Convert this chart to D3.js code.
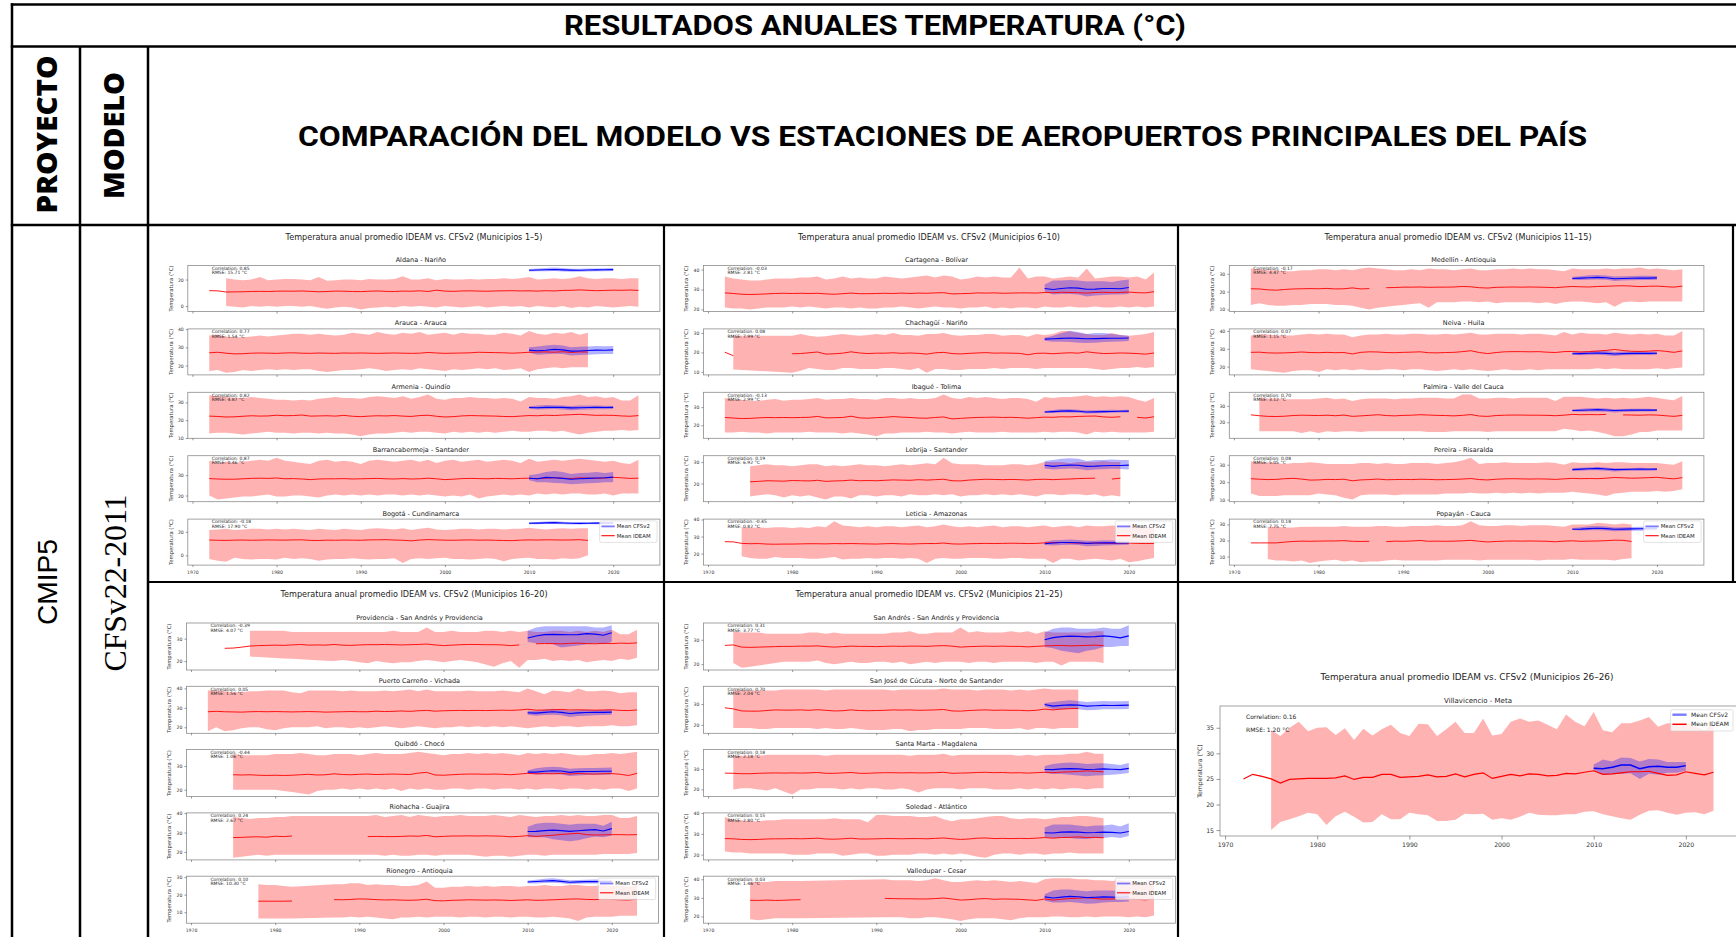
<!DOCTYPE html>
<html><head><meta charset="utf-8">
<script src="https://cdn.jsdelivr.net/npm/d3@7"></script>
<style>html,body{margin:0;padding:0;background:#fff;}svg{display:block;}</style>
</head><body>
<svg id="c" width="1736" height="937"></svg>
<script>
const _ = null;
const YEARS = d3.range(1972, 2024);
const CFS_YEARS = d3.range(2010, 2021);
const xTickValues = [1970, 1980, 1990, 2000, 2010, 2020];

const figureTitles = [
  "Temperatura anual promedio IDEAM vs. CFSv2 (Municipios 1–5)",
  "Temperatura anual promedio IDEAM vs. CFSv2 (Municipios 6–10)",
  "Temperatura anual promedio IDEAM vs. CFSv2 (Municipios 11–15)",
  "Temperatura anual promedio IDEAM vs. CFSv2 (Municipios 16–20)",
  "Temperatura anual promedio IDEAM vs. CFSv2 (Municipios 21–25)",
  "Temperatura anual promedio IDEAM vs. CFSv2 (Municipios 26–26)"
];

const stationNames = [
  "Aldana - Nariño","Arauca - Arauca","Armenia - Quindío","Barrancabermeja - Santander","Bogotá - Cundinamarca",
  "Cartagena - Bolívar","Chachagüí - Nariño","Ibagué - Tolima","Lebrija - Santander","Leticia - Amazonas",
  "Medellín - Antioquia","Neiva - Huila","Palmira - Valle del Cauca","Pereira - Risaralda","Popayán - Cauca",
  "Providencia - San Andrés y Providencia","Puerto Carreño - Vichada","Quibdó - Chocó","Riohacha - Guajira","Rionegro - Antioquia",
  "San Andrés - San Andrés y Providencia","San José de Cúcuta - Norte de Santander","Santa Marta - Magdalena","Soledad - Atlántico","Valledupar - Cesar",
  "Villavicencio - Meta"
];
const correlations = ["0.85","0.77","0.82","0.87","-0.18","-0.03","0.08","-0.13","0.19","-0.45",
  "-0.17","0.07","0.70","0.08","0.18","-0.39","0.05","-0.44","0.24","0.10",
  "0.31","0.70","0.18","0.15","0.03","0.16"];
const rmseValues = ["15.71","1.54","4.87","0.46","17.90","2.81","7.99","2.99","6.92","0.82",
  "4.47","1.15","3.12","5.05","7.75","4.07","1.56","1.06","2.67","10.30",
  "3.77","2.04","2.18","2.80","1.46","1.20"];
const yTickValues = [
  [0,20],[20,30,40],[10,20,30],[20,30],[0,20],
  [20,30,40],[10,20,30],[20,30],[20,30],[20,30,40],
  [10,20,30],[20,30,40],[20,30],[10,20,30],[10,20,30],
  [20,30],[20,30,40],[20,30],[20,30,40],[10,20,30],
  [20,30],[20,30],[20,30],[20,30,40],[20,30,40],
  [15,20,25,30,35]
];

// IDEAM annual mean, 1972..2023
const ideamMean = [
 [11.6,11.5,10.6,10.7,10.8,11.0,11.1,11.0,11.2,11.3, 11.2,11.4,11.1,10.8,11.0,11.3,11.2,11.0,10.9,11.2, 11.4,11.1,11.0,11.3,11.2,11.5,11.0,12.0,11.3,11.1, 11.4,11.5,11.3,11.2,11.4,11.5,11.6,11.4,11.5,11.3, 11.6,11.4,11.8,11.9,12.2,11.9,11.6,11.8,12.0,11.9, 12.1,11.8],
 [27.0,27.3,26.8,26.4,26.5,26.8,26.9,26.8,26.7,26.9, 27.0,26.8,26.7,26.9,26.8,26.7,26.9,26.8,26.9,26.8, 26.7,26.8,26.9,26.8,26.7,26.8,27.2,26.9,26.7,26.8, 26.9,27.0,27.3,27.2,27.1,27.0,26.8,27.0,27.3,27.4, 27.5,27.3,27.6,27.2,27.5,27.4,_,_,_,_, _,_],
 [22.3,22.1,21.8,21.9,22.2,22.5,22.3,22.4,22.8,22.5, 22.6,22.9,22.3,22.4,22.5,22.3,22.7,22.2,22.0,22.3, 22.5,22.4,22.6,22.3,22.1,22.6,22.8,22.2,21.8,22.0, 22.4,22.6,22.5,22.4,22.3,22.1,22.0,22.3,22.6,22.5, 22.8,22.6,22.9,23.1,23.3,23.0,22.7,22.8,22.7,22.4, 22.2,22.6],
 [28.3,28.1,28.0,28.0,28.2,28.4,28.5,28.4,28.6,28.2, 28.3,28.1,27.8,28.1,28.2,28.2,28.3,28.1,28.2,28.3, 28.4,28.2,28.1,28.3,28.1,28.2,28.5,28.2,27.8,28.0, 28.3,28.4,28.3,28.2,28.4,28.3,28.2,28.4,28.5,28.2, 28.6,28.7,28.5,28.3,28.7,28.5,28.4,28.6,28.9,28.7, 28.4,28.5],
 [13.0,12.8,12.7,12.9,13.0,12.8,12.9,13.1,13.0,12.9, 13.1,13.2,12.7,12.6,12.9,12.8,13.0,12.9,12.8,13.1, 13.2,13.3,13.0,12.8,12.3,13.0,13.4,13.1,12.9,12.8, 13.0,13.1,12.9,13.0,12.8,12.6,12.5,12.9,13.1,13.0, 13.2,13.1,13.0,13.1,13.3,12.7,_,_,_,_, _,_],
 [28.3,28.0,27.6,27.5,27.6,27.8,28.0,28.1,28.0,28.1, 28.0,28.1,27.8,27.6,27.9,28.2,27.9,27.9,28.0,28.1, 28.0,28.2,28.0,28.2,28.1,28.3,28.4,27.8,27.9,28.0, 28.3,28.2,28.3,28.1,28.2,28.3,28.3,28.2,28.5,28.4, 28.6,28.5,28.4,28.2,28.5,28.6,28.4,28.5,28.7,28.4, 28.3,28.9],
 [20.1,18.3,_,_,_,_,_,_,19.3,19.4, 19.8,20.2,19.1,19.3,19.6,20.3,19.7,19.4,19.6,19.6, 19.8,19.5,19.7,19.5,19.1,19.8,20.0,19.4,19.2,19.5, 19.7,19.9,19.6,19.7,19.6,19.5,18.8,19.5,19.6,19.3, 19.6,19.8,19.6,20.3,19.8,19.4,19.5,19.7,19.6,19.4, 19.1,19.7],
 [24.3,24.0,23.7,23.8,24.1,24.3,24.2,24.3,24.2,24.3, 24.4,24.9,24.1,24.2,24.3,25.0,24.1,23.9,24.2,24.4, 24.8,24.5,24.3,24.0,23.9,24.3,24.6,23.5,23.8,24.1, 24.3,24.4,24.5,24.3,24.4,24.2,23.9,24.2,24.5,24.4, 24.7,24.6,24.9,25.0,25.1,24.6,24.4,24.7,_,24.4, 24.0,24.7],
 [_,_,_,20.8,21.0,21.3,21.2,21.1,21.4,21.3, 21.2,21.5,21.0,21.2,21.3,21.6,21.3,21.4,21.3,21.5, 21.7,21.6,21.5,21.8,21.6,21.8,22.0,21.3,21.2,21.6, 21.8,22.0,21.9,21.8,21.9,21.8,21.6,21.9,22.0,21.8, 22.0,22.1,22.3,22.4,22.5,_,22.1,22.5,_,_, _,_],
 [27.0,26.9,26.0,25.8,25.9,25.6,25.5,25.6,25.6,25.7, 25.8,25.8,25.7,25.9,25.8,25.9,25.8,25.7,25.6,25.8, 25.9,25.7,25.6,25.8,25.9,25.9,26.2,25.7,25.6,25.8, 25.9,26.0,25.9,26.0,26.1,26.0,25.9,26.0,26.3,26.4, 26.5,26.3,26.2,26.0,26.2,26.1,26.0,26.1,26.2,26.0, 25.9,26.0],
 [21.6,21.5,21.0,20.8,21.2,21.5,21.6,21.7,21.6,21.8, 21.5,21.6,22.1,21.5,21.7,_,22.2,22.3,22.5,22.5, 22.6,22.4,22.5,22.5,22.6,22.9,22.7,22.2,22.0,22.4, 22.5,22.6,22.5,22.6,22.5,22.4,22.2,22.6,22.9,22.7, 22.6,22.9,23.0,23.2,23.3,23.1,22.8,23.0,23.1,22.8, 22.5,23.1],
 [28.0,28.1,27.7,27.6,27.7,27.9,28.2,27.9,27.8,28.0, 27.8,27.9,27.1,28.0,28.3,28.2,27.9,27.8,28.0,28.1, 28.3,27.8,27.7,27.9,28.0,28.4,28.9,27.9,27.3,27.9, 28.3,28.4,28.4,28.3,28.4,28.1,27.9,28.4,28.5,28.2, 28.4,28.7,29.1,29.6,29.0,28.6,28.5,28.7,29.0,28.6, 28.0,28.8],
 [24.5,24.0,23.6,23.5,23.7,24.1,24.3,24.2,24.1,24.3, 24.0,24.4,23.6,23.9,24.2,24.6,24.1,23.9,24.2,24.3, 24.6,24.4,24.2,24.1,23.9,24.2,24.7,23.8,23.6,24.1, 24.3,24.4,24.4,24.3,24.3,24.2,24.0,24.3,24.8,24.6, 24.7,24.6,24.8,_,24.5,24.4,24.3,24.5,24.4,24.0, 23.6,24.2],
 [22.0,21.7,21.5,21.6,22.0,22.2,21.8,21.2,21.3,21.6, 21.5,21.7,20.8,21.3,21.5,21.8,21.4,21.5,21.6,21.5, 21.7,21.6,21.4,21.5,21.6,21.8,22.1,21.5,21.3,21.7, 21.9,22.0,21.9,21.8,21.9,21.8,21.6,21.9,22.2,22.0, 22.1,22.0,22.3,22.7,22.5,22.3,22.4,22.6,22.8,22.3, 21.9,22.6],
 [18.5,18.5,18.5,18.5,19.0,19.4,19.6,19.5,19.6,19.7, 19.7,19.9,19.5,19.4,19.5,_,19.3,19.6,19.5,19.7, 20.0,19.5,19.6,19.5,19.6,19.8,20.1,19.5,19.1,19.4, 19.6,19.7,19.6,19.7,19.6,19.5,19.2,19.6,19.8,19.5, 19.6,19.7,19.9,20.2,20.1,19.4,_,_,_,_, _,_],
 [_,_,25.7,25.8,26.2,26.7,26.9,27.0,27.1,27.0, 27.2,27.4,27.1,27.2,27.1,27.4,27.1,27.0,27.2,27.3, 27.3,27.4,27.3,27.2,27.3,27.4,27.6,27.2,26.9,27.1, 27.3,27.4,27.4,27.3,27.3,27.2,26.9,27.2,_,27.7, 27.8,27.8,27.7,27.9,28.0,27.8,27.7,27.9,27.8,28.0, 27.9,28.1],
 [28.0,28.2,28.0,27.9,27.8,28.0,28.1,28.0,28.1,28.0, 27.9,28.0,28.1,28.0,27.8,27.9,28.0,28.1,28.0,28.0, 28.3,28.1,28.2,28.4,28.2,28.5,28.7,28.3,28.5,28.6, 28.7,28.6,28.7,28.6,28.7,28.8,28.7,28.9,29.3,28.8, 28.9,29.0,29.2,28.9,29.0,28.9,28.8,28.9,29.0,28.7, 28.6,28.9],
 [_,_,_,26.3,26.2,26.3,26.1,26.0,26.1,26.0, 26.1,26.3,26.5,26.2,26.3,26.7,26.4,26.3,26.5,26.6, 26.4,26.5,26.6,26.5,26.4,27.0,27.3,26.2,26.1,26.3, 26.5,26.6,26.6,26.5,26.6,26.5,26.3,26.6,26.9,26.7, 26.8,26.7,26.9,26.6,26.8,26.7,26.6,26.7,26.8,26.5, 26.0,26.9],
 [_,_,_,27.4,27.5,27.7,27.8,27.6,28.1,27.9, 28.2,_,_,_,_,_,_,_,_,27.9, 28.0,27.9,27.9,28.0,28.2,28.1,28.5,27.8,28.0,28.2, 28.2,28.3,28.2,28.3,28.2,28.1,27.8,28.0,28.4,28.0, 28.3,28.6,29.0,29.3,29.6,28.9,28.7,28.8,28.9,28.9, 28.8,28.9],
 [_,_,_,_,_,_,16.3,16.3,16.3,16.3, 16.4,_,_,_,_,17.2,17.1,17.3,17.6,17.5, 17.2,17.0,17.1,16.9,16.8,17.0,17.4,16.6,16.5,16.8, 16.9,17.1,17.0,16.9,17.0,16.9,16.7,16.9,17.1,16.8, 16.9,17.1,17.3,17.5,17.6,17.3,17.2,17.4,17.3,17.1, 17.0,17.5],
 [27.7,27.9,27.0,26.9,27.0,27.1,27.2,27.3,27.3,27.4, 27.4,27.5,27.2,27.0,27.2,27.4,27.3,27.3,27.2,27.3, 27.4,27.3,27.4,27.4,27.3,27.5,27.6,27.4,27.0,27.2, 27.3,27.4,27.3,27.4,27.3,27.3,27.1,27.3,27.5,27.6, 27.7,27.5,27.6,27.7,27.8,27.6,_,_,_,_, _,_],
 [28.2,27.7,26.7,26.6,26.6,26.9,27.2,27.1,27.1,27.2, 27.0,27.3,27.0,26.7,26.8,27.2,26.9,26.8,26.9,27.0, 27.2,27.1,27.2,27.0,27.1,27.2,27.4,26.7,26.6,26.9, 27.1,27.2,27.0,27.1,27.0,27.0,26.8,27.0,27.6,27.2, 27.6,27.8,27.9,_,_,_,_,_,_,_, _,_],
 [28.0,27.9,27.7,27.7,27.9,28.0,28.1,28.0,28.1,28.0, 28.1,28.3,27.9,27.9,28.1,28.3,27.9,27.9,28.1,28.2, 28.2,28.1,28.2,28.1,28.1,28.2,28.4,27.9,28.0,28.1, 28.3,28.4,28.2,28.3,28.1,28.2,28.0,28.2,28.4,28.2, 28.5,28.6,28.8,29.1,28.9,28.6,_,_,_,_, _,_],
 [27.7,27.6,27.3,27.2,27.3,27.5,27.6,27.6,27.7,27.6, 27.7,27.9,27.5,27.4,27.6,27.9,27.5,27.5,27.6,27.7, 27.7,27.6,27.7,27.7,27.6,27.8,28.0,27.6,27.3,27.5, 27.9,28.0,27.7,27.8,27.7,27.8,27.7,27.9,28.2,27.9, 28.2,28.3,28.5,28.2,28.3,28.1,_,_,_,_, _,_],
 [_,_,_,28.7,28.6,28.8,28.6,28.7,28.9,29.0, _,_,_,_,_,_,_,_,_,29.7, 29.6,29.5,29.5,29.4,29.4,29.6,29.9,29.4,28.8,29.0, 29.4,29.6,29.2,29.4,29.3,29.2,28.9,28.6,29.4,28.8, 29.3,29.6,29.8,30.1,29.6,29.3,29.4,29.6,29.5,29.2, 28.9,29.6],
 [25.0,25.9,25.5,25.0,24.2,24.9,25.0,25.1,25.1,25.1, 25.2,25.6,24.9,25.3,25.3,25.9,25.9,25.3,25.4,25.5, 25.8,25.4,25.5,26.0,25.4,25.9,26.2,25.1,25.5,25.9, 25.6,26.0,25.9,25.6,25.7,26.1,26.0,26.3,26.6,25.9, 26.0,26.2,26.4,26.4,26.5,26.1,25.7,25.8,26.4,26.1, 25.8,26.3]
];

// IDEAM upper envelope (shaded band top), 1972..2023
const ideamUpper = [
 [_,_,21,20,19.5,20,22,19.5,20,20.5, 20.5,20,19.5,22,19,19.5,20,20,19.5,20.5, 20,20,20.5,22.5,20,20,21,19.5,20.5,20, 20,20.5,20,20.5,20.5,21,20.5,21,22,20, 20.5,21,20.5,21,22.5,21,20.5,21,21,20.5, 21,21],
 [36.5,37,36,35.5,35.5,36,36.5,36,36.5,37, 37.5,37.5,37,37.5,37,36.5,37,38,37.5,37, 38.5,37.5,37,38,37.5,38.5,37,37.5,38,37, 38,37.5,37.5,37,37,38,37.5,36.5,39,37.5, 37,38,37.5,38.5,37,38,_,_,_,_, _,_],
 [34,33.5,33,32.5,32.5,33,32.5,32,31.5,31.5, 31,31.5,31,32,32.5,33,32.5,32.5,32,33, 33.5,33,32.5,33.5,32,33,34.5,32,31.5,32.5, 32.5,33,32.5,32.5,32,32.5,32,30.5,33,32.5, 32.5,32,33,33.5,34.5,33,33.5,32.5,33,31, 31,34],
 [37,36,36.5,36,36.5,37,37.5,37,38.5,37, 36.5,36,35.5,37,37.5,36.5,37,36.5,35.5,37, 37.5,37,36.5,37,37.5,36.5,37.5,36,37,37.5, 36.5,37,37.5,36.5,37,37.5,37,36,38,36.5, 37,37.5,37,37.5,38,37.5,37,36.5,37,36, 35.5,37.5],
 [21.5,22,22.5,21.5,22,22.5,22.5,22,22.5,22, 22.5,22,21.5,22.5,22,21.5,22.5,22,21.5,22.5, 23,22.5,22,23,21.5,22.5,23.5,22,21.5,22, 22.5,22.5,22,22.5,22.5,22,22.5,22.5,23.5,22.5, 22,22.5,23,22.5,23,23,_,_,_,_, _,_],
 [36.5,35.5,35,34.5,34.5,35,35.5,35.5,35.5,36, 36,36.5,35,35.5,36.5,35.5,36,35.5,35.5,36.5, 36,35.5,36,36.5,37,36,37,36.5,35,35.5, 36.5,36,36.5,36,36,41,35.5,36.5,36.5,35.5, 36,36.5,36,40.5,35.5,36,36.5,36.5,36,36.5, 35,38.5],
 [_,28.5,_,_,_,_,_,_,28.6,29.5, 28.5,28,28.3,29,29.5,29,28.5,29,29.5,29, 30,29,29,28.5,29.5,29.5,30,29,28.5,29, 29,29.5,29.5,28.5,29,29,28,29.5,29,29.5, 31,31,30,29.5,29,29,30,29,28.5,29, 29.5,30.5],
 [35,34,34,33.5,33.5,34,34.5,33.5,34,34, 34.5,35,34,34.5,34.5,35,34.5,34.5,34,35, 35,34.5,35,34.5,34.5,35,37,35,34.5,35.5, 35,35.5,35,34.5,35,35,34.5,33,35.5,35, 35.5,35.5,36,36.5,35.5,36,35.5,36,35.5,34, 33,35],
 [_,_,_,28,28.5,29,28.5,28.5,28,28.5, 29,29,28,28.5,28,28.5,29,28.5,28.5,28, 28.5,29,28.5,29,29.5,29,32,29.5,29,29, 29,28.5,28.5,28.5,29,29,28.5,29,30,30, 30,29.5,30,30,30,30.5,30,30,_,_, _,_],
 [_,_,35.5,35,35.5,35,35.5,35.5,35,35.5, 35,36,35.5,39,36.5,36,35.5,36,35.5,36, 36,35.5,36,36.5,35.5,36,37,36,35.5,36, 35.5,36,36.5,35.5,36,36,35.5,36,36.5,35.5, 36,36.5,35.5,36.5,36,36,36.5,36,36.5,36, 35.5,36],
 [33,32.5,32,32,31.5,31.5,32,32,32.5,32.5, 32,32.5,32,33,33.5,33,32.5,32,32,32.5, 32,33,32.5,32.5,32,32.5,33,32,32,32.5, 32.5,33,32.5,33,32.5,32.5,32,31.5,33,32.5, 32.5,32.5,33,32.5,33,33,33.5,32.5,33,32.5, 32,32.5],
 [37.5,38,38,37.5,37.5,37.5,38,38.5,38,38.5, 38,38,36.5,37.5,38,38,38.5,38,38,38.5, 38.5,38,38,38.5,38,38.5,39,38,38,38.5, 38.5,38.5,38,38.5,38.5,38,37.5,39.5,38,39, 38.5,38.5,38,39,38.5,38,38.5,38,38.5,37.5, 37.5,40],
 [_,35,34.5,34.5,34,34,34,34,34.5,35, 34,34.5,33,34,34.5,34.5,34.5,34,34.5,34.5, 35,35,35,34.5,34.5,37,37,34.5,34.5,35, 35,34.5,35,35,35,35,33,35.5,35.5,35.5, 35,34.5,35,34.5,35,34.5,35,35.5,35,34, 33.5,36],
 [32,31.5,31.5,31,30.5,31,31,31.5,31,30.5, 30.5,30.5,30.5,31,31,30.5,31,30.5,30.5,31, 31,31,30.5,31,31.5,32.5,34,30.5,31,31, 31.5,31,31,31,31,31.5,31,30,31.5,31, 31,31.5,31,31.5,31.5,31,31,31,31,30.5, 30,32],
 [_,_,28.5,28.5,28,28,28.5,28.5,28.5,28.5, 28.5,29,28.5,28.5,28.5,29,29,28.5,28.5,29, 29,29,29.5,29,29,29.5,32,29.5,29,29, 29.5,29.5,29,29.5,29.5,29.5,29,28.5,30,30, 30,31,30.5,30,30.5,30,_,_,_,_, _,_],
 [_,_,_,_,_,33.5,33.5,33.5,33.5,33.5, 33,33,33,33,33,33,33,33,33,33, 33,33,33.5,33,33,33,35,33,33,33.5, 33,33,33,33.5,33.5,33,33.5,33,33.5,33, 33,33.5,33.5,33,33.5,33,33.5,33,34,32, 32,34],
 [39,39,38.5,38,38,38.5,38.5,39,39,39, 38,37.5,39,39,39,39,38.5,39,38.5,38.5, 38.5,39,38.5,39,39.5,38.5,39.5,38.5,38.5,38.5, 38.5,39,38.5,38.5,38.5,39,38.5,38,40,38.5, 37,39,38.5,38,40,38.5,38.5,39,38.5,37.5, 38,38],
 [_,_,_,35,34.5,34.5,34.5,34.5,35,35, 35,35.5,35,34.5,34.5,35,35,35,34.5,35, 35.5,35,35,35,35.5,36,35.5,35,34.5,35, 35,35.5,35,35.5,35,35.5,35,34.5,35.5,35, 35.5,35,35.5,35,34.5,34.5,35,35,35.5,35, 35.5,36],
 [_,_,_,38,37.5,37,37.5,37.5,38,38, 38.5,_,_,_,_,_,_,_,_,38.5, 39,38,38.5,39,38,39,38.5,38,38.5,38.5, 39,38.5,38.5,38.5,39,38.5,38,39,38.5,38, 38.5,38.5,39,38.5,39,38.5,38.5,39,39,37.5, 37.5,38.5],
 [_,_,_,_,_,_,26,25.5,25.5,25, 24.5,_,_,_,_,26,26,26.5,26.5,25.5, 26,25.5,25.5,25,25,25.5,27.5,24,24,24.5, 24.5,25,24.5,25,24.5,25,25,24.5,25,25, 25.5,25,25,25.5,25.5,25,25,25.5,25,25, 24.5,26],
 [_,33.5,33,33,33,32.5,32.5,32.5,32.5,32.5, 33,33,32.5,33,32.5,32.5,32.5,32.5,32.5,32.5, 33,33,33.5,32.5,32.5,33,33,33,35,33, 33.5,33,33,33,33.5,33,33.5,32.5,33.5,33, 33,33,33,33,33.5,33.5,_,_,_,_, _,_],
 [_,36.5,36.5,36.5,36.5,36.5,36.5,37,37,37, 37,37,36.5,37,37,37,37,37,37,37, 36.5,37,37,37,37,37,37.5,37,37,37, 36.5,37,37,37,36.5,37,36.5,37,37.5,37, 37,37,37,_,_,_,_,_,_,_, _,_],
 [_,36.5,36.5,36.5,36.5,37,37,37,37,37, 37,37,36.5,37,37,37,37,37,37,37, 37,37,36.5,37,37,37,37.5,36.5,37,37, 37,37,37,37,37,36.5,37,36.5,37,37, 37,37.5,37.5,38.5,37.5,37.5,_,_,_,_, _,_],
 [38,36.5,36.5,36,36,36.5,36.5,37,37,37, 37,37,37,37.5,37,37,37,35.5,39,39, 38.5,38.5,38.5,38,38,38.5,37,36,37,37, 37.5,38,38.5,38.5,37.5,37,37.5,37.5,37,37.5, 38,38,38.5,38.5,38,37.5,_,_,_,_, _,_],
 [_,_,_,38.5,38.5,38.5,39,39,39,39, _,_,_,_,_,_,_,_,_,40, 39.5,39.5,39.5,39,39.5,40.5,39.5,38.5,38.5,39, 39.5,39,39.5,39,38.5,39,38.5,38,40,40.5, 40.5,40.5,40,40,39.5,39.5,39,39.5,39,38.5, 38,38.5],
 [_,_,_,34.5,33.4,35,36.2,34.3,35,35.1, 33.6,34.9,32.6,34.8,33.5,34.7,35.6,34,33.4,35.8, 35.7,33.4,34.7,36.2,34,34,36.8,33.5,33.8,36.2, 36.8,36.2,36.4,35.6,34.7,37.6,36.2,35.3,38.1,34.5, 34.1,35.9,35.9,36.4,37.1,35.2,35.9,35.9,36,35.3, 34.5,35.9]
];

// IDEAM lower envelope (shaded band bottom), 1972..2023
const ideamLower = [
 [_,_,0,-0.5,-1,0,-0.5,0,-0.5,0, 0,-0.5,0,-1,-2,-1,-0.5,-1,-2.5,-1.5, -1,-0.5,-1,0,-0.5,0,-0.5,-1,0,-0.5, -1,-0.5,0,-1,-0.5,0,-0.5,0,-1,0, -0.5,-1,0,-1.5,-0.5,-1,0,-0.5,-1,-0.5, 0,-0.5],
 [17,17.5,16,16.5,17.5,17,17.5,18,17.5,18, 17.5,18,18,17,16.5,17,17.5,17.5,18,18.5, 18,17,17.5,18,17.5,18.5,18,17.5,17,18, 17.5,18,18.5,18,18.5,17.5,18,18.5,16.5,18, 18.5,19,18.5,19,19,19,_,_,_,_, _,_],
 [12.5,13,13,12.5,12,12.5,13,13.5,13,13, 12.5,13,13,12.5,13,12.5,12.5,12,11,12, 12.5,12.5,13,13.5,13,13.5,13.5,13,12.5,13.5, 13,13.5,13,13.5,13,13.5,14,13.5,13.5,14, 14,13.5,14,13,12,13,13.5,14,14,14.5, 14,14.5],
 [20,18,18.5,19,19.5,19.5,20,20.5,19.5,19.5, 20,20,19.5,19,20,20.5,20,20.5,20,20.5, 20,20.5,20.5,20,20.5,20,20.5,20,19.5,20, 19.5,20.5,18.5,19.5,20,20.5,20,20.5,20,21, 20.5,21,20.5,21,21,20.5,20.5,21,20,21, 21,21],
 [-3,-4.5,-5.5,-2,-3,-3.5,-3,-3,-3.5,-2, -3,-2.5,-3,-4.5,-3.5,-3,-3,-2.5,-3,-3.5, -3,-3,-2.5,-6.5,-3,-2.5,-3,-2.5,-2,-3, -3,-3.5,-3,-2.5,-3,-5,-3,-2.5,-2,-3, -3,-3.5,-2.5,-3,-2.5,0,_,_,_,_, _,_],
 [21,20.5,20.5,20,20.5,21,21,21,21.5,21, 21.5,21,20.5,21,21,20.5,21,20.5,20.5,21, 21,21.5,21,20.5,21,21.5,21,21,20.5,21, 21,21.5,20.5,21,20.5,21,21,20.5,21.5,21, 21,21.5,21,21,21.5,21,21,21.5,21,21.5, 21,21.5],
 [_,11.2,_,_,_,_,_,_,9.5,10.5, 12,11.5,11,11,12,12,11.5,11.5,11.5,12, 12,11.5,11,12,9.5,11.5,11.5,11,11,11.5, 11.5,11.5,12,11.5,12,12,12,11.5,12,12, 12,12,12,12,11.5,11,11.5,12,12,12.5, 12,12.5],
 [16,16,16.5,16,16,15.5,16,16,16,16, 16.5,16,16,16,15.5,16,15.5,15,14,15.5, 15.5,16,16,16,16.5,16,16,15.5,16,16.5, 16,16,16,16.5,16,16,16,16,16.5,16, 16.5,16.5,16,15,16.5,16,16.5,16,16,16, 16,16.5],
 [_,_,_,14,14.5,15,14.5,13.5,14.5,14, 14.5,13.5,12.5,14,14,13,14.5,14.5,14,14.5, 14.5,14,15,14.5,14.5,15,14.5,15,14,14.5, 14.5,15,14.5,15,14.5,15,14.5,14,15,15, 14.5,15,15,14.5,15,14,14.5,14,_,_, _,_],
 [_,_,18.5,17.5,17,17,18,17.5,17.5,17.5, 17,17,17.5,18,16.5,17,17,17.5,17,17.5, 17.5,17,17.5,17,14.5,17,17.5,17,17,17.5, 17.5,17.5,17,17,17.5,17.5,17,17,17,14.5, 17,17,16,16.5,17,16.5,16,17,15,15.5, 16.5,17.5],
 [12.5,13.5,12.5,12,12,12.5,12.5,13,13,13, 12.5,12.5,12,11,10,11,11.5,12,12.5,13, 13.5,11,14,14,14,14.5,14.5,14,14.5,13.5, 14,14,14,14,13.5,14,13,14,14.5,14.5, 14,13.5,14,11.5,14,14.5,14,14.5,14.5,14.5, 14.5,14.5],
 [18.5,18,17.5,17,16.5,17.5,18,18,17,18.5, 18,18.5,18,18.5,18,18,18.5,18.5,18,18.5, 18.5,18,17.5,18,18.5,18,18.5,18,17.5,18, 18.5,18,18,18.5,18,18.5,18.5,18.5,18.5,18.5, 18.5,19,18.5,19,18.5,18.5,18.5,18.5,19,18.5, 19,19.5],
 [_,14.5,14.5,14.5,14.5,14.5,13.5,14.5,13.5,14.5, 14,14.5,14.5,14,14.5,14.5,14.5,14.5,14.5,14.5, 14.5,14,14,14,14.5,14.5,14.5,14.5,14,14.5, 14.5,14.5,14.5,14.5,14.5,14.5,14.5,16,15.5,14.5, 15,14,13,11.5,11.5,12.5,14,14,15,15, 15,15],
 [13.5,12,12,12,12.5,12.5,12.5,12.5,13.5,13, 12.5,11,10,12.5,13,13,13,12.5,13,13, 13,13,13,13.5,13.5,13.5,14,13.5,13.5,14, 13.5,14,13.5,14,13.5,14,14,14,14.5,14, 13.5,13,12,13.5,14,14.5,14.5,14.5,15,14.5, 15,16],
 [_,_,8.5,7.5,7.5,7,7.5,6,7,7.5, 8,7,7.5,6.5,7,7,7.5,8,7.5,7.5, 7.5,7.5,7.5,8,8,8,8,7.5,8,8, 8,8,8,8,7.5,8,8,8,8.5,8, 8,8,8,7.5,8.5,9,_,_,_,_, _,_],
 [_,_,_,_,_,22,21.8,21.6,21.4,21.2, 21,20.8,20.6,20.4,20.2,20,20.5,20,19.5,19, 20,19.5,19,19.5,19.5,20,20.5,20,19.5,20, 20.5,20,19.5,18.5,17.5,19,20,17,20.5,20.5, 21,20,20.5,20,20.5,19.5,20,20.5,20,21, 20.5,21.5],
 [18,20,18,18.5,19.5,20,20,19,18.5,19.5, 20,20,20,20.5,19.5,20,20,19.5,20,19.5, 20,20.5,20,19.5,20,20.5,20,19.5,20,20, 20.5,20,20.5,20,20.5,20,20.5,20,19.5,20, 20.5,20,20.5,20.5,20,20.5,20.5,20.5,21,20.5, 20.5,21],
 [_,_,_,20,20,20,20,20,20,19.5, 19,18.5,18,19.5,20,20,20.5,20,20.5,20, 20.5,20,20.5,19.5,20.5,20,20.5,20,20,20.5, 20.5,20,20.5,20.5,20,20.5,20.5,20,20.5,20, 20.5,20.5,20,20.5,20.5,20,20.5,20,20.5,20.5, 19.5,20.5],
 [_,_,_,17,17.5,18,18.5,18,18.5,18.5, 18.5,_,_,_,_,_,_,_,_,18.5, 18.5,18,18.5,18,18,18.5,18.5,18,18.5,18.5, 18.5,18.5,18,17.5,18,18,17.5,18,18.5,18.5, 18,18.5,18.5,18.5,18.5,18.5,18.5,19,19,19, 19,19.5],
 [_,_,_,_,_,_,6.5,6.5,6.5,6.5, 6.5,_,_,_,_,7,7,7.5,7,7.5, 7,6.5,6,7,7,7.5,7,7.5,7.5,7.5, 7,7.5,7.5,7,7.5,7.5,7,7.5,7.5,7, 7,7.5,7,6.5,5,7,7.5,7.5,7.5,8, 8,8],
 [_,20.5,18.5,19,19.5,20,20.5,21,21,21, 21,21.5,20.5,20,20.5,21,20.5,20.5,21,21, 20.5,21,20,20.5,21,20.5,21,21,21,20.5, 21,21,20.5,21,21,21,21,20.5,21,21, 19.5,21,21,21,21,20.5,_,_,_,_, _,_],
 [_,18.5,18.5,18.5,18,18,18.5,18.5,18.5,18.5, 18.5,18,18.5,18,18,18.5,18,17.5,17.5,17.5, 18,18,17,17.5,17.5,18,18,18,18,18.5, 18.5,18.5,18,18,18,18.5,17.5,18.5,18.5,18, 18.5,18.5,18.5,_,_,_,_,_,_,_, _,_],
 [_,20,20.5,20.5,20,19.5,20.5,19,17.5,20, 20,20.5,20.5,20.5,20,20.5,20,20.5,20.5,20, 20,20.5,20,18.5,20,20.5,20.5,20.5,20,20.5, 20.5,20.5,20,20,20,20.5,20,20.5,20,20.5, 20,20.5,20.5,20,20.5,20.5,_,_,_,_, _,_],
 [21.5,21,21,20.5,20.5,20.5,20.5,20.5,20,20, 20,20.5,20.5,20.5,19.5,20,20.5,20.5,19.5,19.5, 20,20,20,20.5,20.5,20,20.5,20,20.5,20, 19,18.5,20,20.5,20.5,20,20.5,20.5,20,20.5, 20.5,21,20.5,20.5,20.5,20.5,_,_,_,_, _,_],
 [_,_,_,18.5,18,18.5,19,19,19,19, _,_,_,_,_,_,_,_,_,19.5, 19.5,19.5,19,19,19.5,19.5,19,18.5,17.5,18.5, 19,19,19,18.5,18,19,19.5,19.5,19.5,20, 20,19.5,19.5,20,19.5,20,20,20,19.5,20, 19.5,20.5],
 [_,_,_,15,16.6,17.1,17.7,18.4,18.1,16, 17.7,18.6,17.6,16.5,16.6,18.1,17.1,17.1,18.4,18.1, 17.9,16.8,16.8,17,18.2,18.1,18.2,17,17.3,17, 17.6,18.4,18,17.9,17.9,18.1,18.1,18.6,18.7,18.1, 17.7,17.3,17,18,18.8,18.9,18.4,18,18.4,18.5, 18.1,18.8]
];

// CFSv2 mean and band, 2010..2020
const cfsMean = [
 [27,27.2,27.4,27.6,27.3,27.1,27.0,27.2,27.3,27.4,27.5],
 [28.5,28.1,28.4,28.9,28.6,27.9,28.0,28.3,28.5,28.4,28.6],
 [27.1,27.0,27.2,27.3,27.2,26.9,27.0,27.1,27.2,27.1,27.2],
 [28.5,28.2,28.9,28.7,28.4,28.0,28.2,28.4,28.6,28.7,29.0],
 [27.2,27.4,27.6,27.8,27.5,27.2,27.1,27.3,27.4,27.5,27.5],
 [30.5,30.0,30.5,30.9,30.7,30.1,30.2,30.5,30.5,30.4,31.0],
 [26.8,27.0,27.2,27.4,27.2,27.0,27.1,27.2,27.3,27.3,27.4],
 [27.3,27.5,27.8,27.9,27.7,27.3,27.4,27.5,27.6,27.7,27.8],
 [28.5,28.0,28.4,28.6,28.5,28.0,28.1,28.3,28.4,28.4,28.6],
 [25.8,26.2,26.5,26.5,26.4,26.0,26.2,26.3,26.4,26.3,26.2],
 [27.4,27.6,27.8,28.0,27.8,27.2,27.4,27.5,27.6,27.6,27.7],
 [27.2,27.3,27.5,27.6,27.4,27.1,27.3,27.4,27.5,27.4,27.5],
 [27.2,27.3,27.5,27.7,27.5,27.2,27.3,27.4,27.4,27.4,27.4],
 [27.2,27.5,27.7,27.9,27.6,27.2,27.3,27.4,27.5,27.4,27.5],
 [27.0,27.1,27.4,27.6,27.4,27.0,27.1,27.2,27.3,27.3,27.3],
 [30.3,31.2,31.8,31.9,31.8,31.7,31.8,32.2,32.0,31.5,32.6],
 [27.5,27.3,27.7,28.0,27.7,27.1,27.4,27.6,27.7,27.7,27.8],
 [27.4,27.4,27.8,28.0,27.9,27.3,27.6,27.7,27.7,27.8,27.8],
 [30.5,30.6,31.0,31.2,31.0,30.6,30.9,31.2,31.5,30.8,32.0],
 [27.2,27.5,27.8,28.0,27.6,27.1,27.3,27.4,27.4,27.4,27.5],
 [30.0,30.9,31.3,31.5,31.4,31.2,31.3,31.6,31.3,30.8,31.6],
 [29.8,29.0,29.4,29.6,29.5,29.0,29.2,29.4,29.3,29.4,29.5],
 [29.8,29.7,30.1,30.2,30.1,29.8,29.9,30.1,29.9,29.7,30.3],
 [30.5,30.4,30.8,30.9,30.8,30.5,30.6,30.8,30.7,30.4,31.1],
 [30.5,29.9,30.4,30.8,30.6,30.1,30.3,30.5,30.4,30.3,30.6],
 [27.1,27.0,27.3,27.7,27.7,27.0,27.4,27.5,27.3,27.3,27.6]
];
const cfsUpper = [
 [28,28.3,28.6,29,28.6,28.2,28.1,28.3,28.4,28.5,28.6],
 [30,30.5,31,31.5,31,30,30.3,30.5,30.8,30.6,30.8],
 [27.8,28.2,28.5,28.4,28.3,28.0,28.2,28.2,28.3,28.1,28.0],
 [30,30.5,31.5,32,31.5,30.5,31,31.2,31.5,31,31.5],
 [28,28.3,28.7,29,28.6,28.1,28,28.2,28.3,28.4,28.4],
 [32.5,34.5,34.5,34.8,34.5,34,34.2,34.2,33.8,34.5,35],
 [27.5,28.5,30,31,30.5,29.5,30,30,29.5,29,28.5],
 [27.9,28.4,28.8,28.8,28.5,28.1,28.3,28.4,28.5,28.4,28.5],
 [30.5,31,31.5,31.8,31.5,30.5,31,31,31.2,31,31],
 [27,27.8,28,28.3,28,27.5,27.5,27.8,27.7,27.5,27.3],
 [28.3,28.7,29.2,29.4,29,28.5,28.7,28.8,28.9,28.9,28.8],
 [28,28.5,28.8,29,28.7,28.2,28.5,28.5,28.6,28.5,28.5],
 [27.8,28.2,28.5,28.7,28.4,28,28.1,28.2,28.3,28.2,28],
 [28,28.3,28.6,28.7,28.4,28,28.1,28.2,28.3,28.2,28.2],
 [27.8,28.3,28.8,29,28.7,28.1,28.3,28.4,28.5,28.4,28.3],
 [33.5,35,35.5,35.5,35.5,35.5,35.5,35.5,35,35,36],
 [28.5,28.5,29,29.5,29,28.5,28.8,29,28.8,29,29.2],
 [28.2,29,29.5,29.7,29.5,28.8,29,29.2,29.2,29.3,29.4],
 [33,34.5,35,35,34.5,34,34.5,34.5,34.5,33.5,35.5],
 [28,28.5,29,29.3,28.8,28.2,28.4,28.5,28.6,28.5,28.5],
 [33,34.5,35,35,34.5,34.5,34.5,35,34.5,34.5,36],
 [30.5,31,31.5,31.8,31.5,31,31.2,31.5,31.3,31.3,31.5],
 [31.5,32.5,33,33.2,33,32.5,32.7,32.8,32.5,32,33],
 [33,34.5,34.5,34.5,34,33.5,34,34,34.5,33.5,35],
 [32,34,34.5,34.5,34,33.5,34,34,34,33.5,34],
 [27.8,28.8,28.4,29.2,29.1,28.4,28.9,28.8,28.3,28.3,28.3]
];
const cfsLower = [
 [26,26.2,26.3,26.4,26.1,25.9,25.9,26.1,26.2,26.3,26.4],
 [27,26,26.2,26.5,26.3,25.5,25.8,26,26.2,26.3,26.4],
 [26.4,26.0,26.1,26.3,26.0,25.6,25.9,26.0,26.1,26.1,26.3],
 [27.5,26.5,26.5,26.2,26,25.5,25.8,26,26.2,26.5,26.5],
 [26.4,26.5,26.6,26.7,26.4,26.2,26.1,26.4,26.5,26.5,26.6],
 [29,27.5,27.8,27.8,27.5,26.5,27,27.2,27.5,27.5,27.8],
 [26,25.5,25.5,25.3,25,24.8,25,25.3,25.5,25.6,25.8],
 [26.8,26.8,27,27.1,26.9,26.5,26.6,26.8,26.9,27,27.1],
 [27,26.5,26.8,27,26.8,26.2,26.5,26.7,26.9,26.8,26.5],
 [25,24.8,25,25.2,25,24.3,24.5,24.7,24.9,25,25.2],
 [26.7,26.5,26.6,26.8,26.6,26,26.3,26.4,26.5,26.5,26.6],
 [26.6,26.4,26.5,26.6,26.4,26,26.3,26.4,26.5,26.5,26.6],
 [26.6,26.4,26.5,26.6,26.4,26,26.3,26.4,26.5,26.5,26.7],
 [26.5,26.6,26.8,26.9,26.6,26.2,26.4,26.5,26.6,26.6,26.7],
 [26.5,26.2,26.3,26.4,26.2,25.7,25.9,26,26.1,26.2,26.3],
 [28.5,28,28,27.5,26,26.5,27,27.5,28,27.5,28.5],
 [26.5,26,26.3,26.5,26.2,25.3,25.8,26,26.2,26.3,26.5],
 [26.8,26.4,26.5,26.6,26.4,25.8,26,26.2,26.3,26.3,26.4],
 [27.5,27.5,27.5,26.5,26,25.5,26,27,28,27.5,28.5],
 [26.5,26.4,26.6,26.8,26.5,26,26.2,26.3,26.4,26.4,26.5],
 [27,26.5,25.5,25,24.5,25.5,26,27,27,27.5,27.5],
 [28.8,27.5,27.5,27.8,27.5,27,27.2,27.5,27.5,27.5,27.6],
 [28,27.5,27.5,27.2,26.8,26.5,26.8,27,27.2,27.5,28],
 [28.5,28,28,28,27.5,27.5,28,28,28.5,28,29],
 [28.5,27.5,27.5,27.8,27.3,26.8,27,27.5,27.8,27.8,28],
 [26.7,25.8,25.9,26,26.1,25,26,25.8,26.2,26.2,26.6]
];

// ---------------------------------------------------------------
const svg = d3.select("#c");
const PF = "'DejaVu Sans', 'Liberation Sans', sans-serif";
const X_DOMAIN = [1969.45, 2025.55];

svg.append("rect").attr("width", 1736).attr("height", 937).attr("fill", "#fff");

// ---- figure layouts ----
const figures = [
  {st:[0,1,2,3,4],      x0:187.8, x1:659.9,  top:265.5, step:63.4, h:46, tx:414,  ty:239.5},
  {st:[5,6,7,8,9],      x0:703.4, x1:1175.5, top:265.5, step:63.4, h:46, tx:929,  ty:239.5},
  {st:[10,11,12,13,14], x0:1229.3,x1:1703.9, top:265.5, step:63.4, h:46, tx:1458, ty:239.5},
  {st:[15,16,17,18,19], x0:186.4, x1:658.5,  top:623,   step:63.3, h:47, tx:414,  ty:596.5},
  {st:[20,21,22,23,24], x0:703.4, x1:1175.5, top:623,   step:63.3, h:47, tx:929,  ty:596.5},
  {st:[25],             x0:1220,  x1:1737,   top:706,   step:0,    h:130, tx:1467, ty:679.5, single:true}
];

const small = {subFont:6.5, annFont:4.5, tickFont:4.6, ylabFont:5.3, legFont:5.4, lw:0.9, tick:2, ypad:2, xpad:3.6,
  annDx:24, annY1:4.3, annY2:8.6, ylabDx:17};
const big = {subFont:7, annFont:6, tickFont:6.2, ylabFont:6.2, legFont:6, lw:1.2, tick:3.5, ypad:2.5, xpad:3.5,
  annDx:26, annY1:13, annY2:26, ylabDx:20};

function drawSubplot(s, x0, x1, top, h, cfg, showX, legend) {
  const g = svg.append("g");
  const x = d3.scaleLinear().domain(X_DOMAIN).range([x0, x1]);
  const all = [].concat(ideamMean[s], ideamUpper[s], ideamLower[s], cfsMean[s], cfsUpper[s], cfsLower[s]).filter(v => v != null);
  const [lo, hi] = d3.extent(all);
  const pad = (hi - lo) * 0.05;
  const y = d3.scaleLinear().domain([lo - pad, hi + pad]).range([top + h, top]);

  const rows = YEARS.map((yr, i) => ({yr, m: ideamMean[s][i] ?? null, u: ideamUpper[s][i] ?? null, l: ideamLower[s][i] ?? null}));
  const bandRows = rows.filter(d => d.u != null && d.l != null);
  const cfsRows = CFS_YEARS.map((yr, i) => ({yr, m: cfsMean[s][i], u: cfsUpper[s][i], l: cfsLower[s][i]}));
  const area = d3.area().x(d => x(d.yr)).y0(d => y(d.l)).y1(d => y(d.u));
  const line = d3.line().defined(d => d.m != null).x(d => x(d.yr)).y(d => y(d.m));

  g.append("path").datum(bandRows).attr("d", area).attr("fill", "#ff0000").attr("fill-opacity", 0.3);
  g.append("path").datum(cfsRows).attr("d", area).attr("fill", "#0000ff").attr("fill-opacity", 0.3);
  g.append("path").datum(rows).attr("d", line).attr("fill", "none").attr("stroke", "#ff0000").attr("stroke-width", cfg.lw);
  g.append("path").datum(cfsRows).attr("d", line).attr("fill", "none").attr("stroke", "#0000ff").attr("stroke-width", cfg.lw * 1.25);

  g.append("rect").attr("x", x0).attr("y", top).attr("width", x1 - x0).attr("height", h)
    .attr("fill", "none").attr("stroke", "#8c8c8c").attr("stroke-width", 0.8);

  const ya = d3.axisLeft(y).tickValues(yTickValues[s]).tickSize(cfg.tick).tickPadding(cfg.ypad).tickFormat(d3.format("d"));
  const yg = g.append("g").attr("transform", `translate(${x0},0)`).call(ya);
  const xa = d3.axisBottom(x).tickValues(xTickValues).tickSize(cfg.tick).tickPadding(cfg.xpad)
    .tickFormat(showX ? d3.format("d") : () => "");
  const xg = g.append("g").attr("transform", `translate(0,${top + h})`).call(xa);
  [yg, xg].forEach(a => {
    a.select(".domain").remove();
    a.selectAll(".tick line").attr("stroke", "#555").attr("stroke-width", 0.6);
    a.selectAll(".tick text").attr("font-family", PF).attr("font-size", cfg.tickFont).attr("fill", "#333");
  });

  // subplot title
  g.append("text").attr("x", (x0 + Math.min(x1, 1736)) / 2 + (cfg === big ? 0 : -3)).attr("y", top - 3.5)
    .attr("text-anchor", "middle").attr("font-family", PF).attr("font-size", cfg.subFont).attr("fill", "#222")
    .text(stationNames[s]);
  // annotations
  g.append("text").attr("x", x0 + cfg.annDx).attr("y", top + cfg.annY1).attr("font-family", PF)
    .attr("font-size", cfg.annFont).attr("fill", "#222").text("Correlation: " + correlations[s]);
  g.append("text").attr("x", x0 + cfg.annDx).attr("y", top + cfg.annY2).attr("font-family", PF)
    .attr("font-size", cfg.annFont).attr("fill", "#222").text("RMSE: " + rmseValues[s] + " °C");
  // y label
  g.append("text").attr("transform", `translate(${x0 - cfg.ylabDx},${top + h / 2}) rotate(-90)`)
    .attr("text-anchor", "middle").attr("dy", "0.35em").attr("font-family", PF).attr("font-size", cfg.ylabFont)
    .attr("fill", "#333").text("Temperatura (°C)");

  if (legend) {
    const L = legend;
    const lg = g.append("g");
    lg.append("rect").attr("x", L.x).attr("y", L.y).attr("width", L.w).attr("height", L.h).attr("rx", 1.5)
      .attr("fill", "#fff").attr("fill-opacity", 0.8).attr("stroke", "#cfcfcf").attr("stroke-width", 0.6);
    const items = [{t: "Mean CFSv2", c: "#4d4dff", w: cfg.lw * 2}, {t: "Mean IDEAM", c: "#ff0000", w: cfg.lw * 1.2}];
    items.forEach((it, i) => {
      const yy = L.y + L.r1 + i * L.dr;
      lg.append("line").attr("x1", L.x + L.s0).attr("x2", L.x + L.s1).attr("y1", yy).attr("y2", yy)
        .attr("stroke", it.c).attr("stroke-width", it.w).attr("stroke-opacity", i === 0 ? 0.75 : 1);
      lg.append("text").attr("x", L.x + L.tx).attr("y", yy).attr("dy", "0.35em").attr("font-family", PF)
        .attr("font-size", cfg.legFont).attr("fill", "#222").text(it.t);
    });
  }
}

figures.forEach((f, fi) => {
  const cfg = f.single ? big : small;
  svg.append("text").attr("x", f.tx).attr("y", f.ty).attr("text-anchor", "middle").attr("font-family", PF)
    .attr("font-size", f.single ? 8.9 : 8.1).attr("fill", "#222").text(figureTitles[fi]);
  f.st.forEach((s, k) => {
    const top = f.top + k * f.step;
    const last = k === f.st.length - 1;
    let legend = null;
    if (last) {
      legend = f.single
        ? {x: 1670.6, y: top + 3.7, w: 62.4, h: 21.3, r1: 5, dr: 9.6, s0: 1.8, s1: 16, tx: 20.5}
        : {x: f.x1 - 60.2, y: top + 1.8, w: 57.4, h: 21.5, r1: 5.5, dr: 9.3, s0: 1.7, s1: 15, tx: 17};
    }
    drawSubplot(s, f.x0, f.x1, top, f.h, cfg, last, legend);
  });
});

// ---- table structure ----
const T = svg.append("g").attr("stroke", "#000").attr("fill", "none");
const hl = (x1, x2, y, w) => T.append("line").attr("x1", x1).attr("x2", x2).attr("y1", y).attr("y2", y).attr("stroke-width", w);
const vl = (x, y1, y2, w) => T.append("line").attr("x1", x).attr("x2", x).attr("y1", y1).attr("y2", y2).attr("stroke-width", w);
hl(10.8, 1736, 4.5, 2.5);
hl(10.8, 1736, 46.5, 2.5);
hl(10.8, 1736, 225, 2.5);
vl(12, 3.3, 937, 2.5);
vl(80, 46.5, 937, 2.5);
vl(148, 46.5, 937, 2.5);
vl(664, 225, 937, 2.2);
vl(1178, 225, 937, 2.2);
vl(1733, 225, 582, 2.2);
hl(148, 1736, 582, 1.8);

// ---- header texts ----
svg.append("text").attr("x", 875).attr("y", 35).attr("text-anchor", "middle")
  .attr("font-family", "Roboto, 'Liberation Sans', sans-serif").attr("font-weight", 700).attr("font-size", 27)
  .attr("textLength", 622).attr("lengthAdjust", "spacingAndGlyphs").attr("fill", "#000")
  .text("RESULTADOS ANUALES TEMPERATURA (°C)");
svg.append("text").attr("x", 942.5).attr("y", 145.5).attr("text-anchor", "middle")
  .attr("font-family", "Roboto, 'Liberation Sans', sans-serif").attr("font-weight", 700).attr("font-size", 27)
  .attr("textLength", 1289).attr("lengthAdjust", "spacingAndGlyphs").attr("fill", "#000")
  .text("COMPARACIÓN DEL MODELO VS ESTACIONES DE AEROPUERTOS PRINCIPALES DEL PAÍS");

function vtext(cx, cy, txt, len, size, fam, weight) {
  svg.append("text").attr("transform", `translate(${cx},${cy}) rotate(-90)`).attr("text-anchor", "middle")
    .attr("dy", "0.36em").attr("font-family", fam).attr("font-weight", weight).attr("font-size", size)
    .attr("textLength", len).attr("lengthAdjust", "spacingAndGlyphs").attr("fill", "#000").text(txt);
}
vtext(46.5, 134.5, "PROYECTO", 158, 29, "'Open Sans', 'DejaVu Sans', sans-serif", 800);
vtext(114, 135.6, "MODELO", 127, 29, "'Open Sans', 'DejaVu Sans', sans-serif", 800);
vtext(46.5, 582, "CMIP5", 86, 28.5, "'Liberation Sans', Arial, sans-serif", 400);
vtext(115, 583, "CFSv22-2011", 177, 31.5, "'Liberation Serif', 'Times New Roman', serif", 400);
</script>
</body></html>
